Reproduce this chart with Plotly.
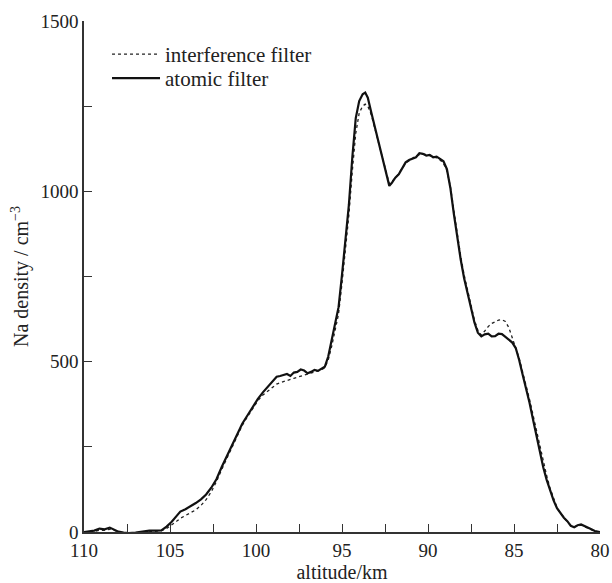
import plotly.graph_objects as go

altitude = [110.0, 109.7, 109.4, 109.1, 108.8, 108.5, 108.3, 108.0, 107.7, 107.4, 107.0, 106.6, 106.2, 105.8,
            105.5, 105.2, 104.9, 104.6, 104.4, 104.1, 103.8, 103.5, 103.2, 102.9, 102.6, 102.3, 102.0, 101.7,
            101.4, 101.1, 100.8, 100.5, 100.2, 99.9, 99.6, 99.3, 99.0, 98.8, 98.6, 98.4, 98.2, 98.0, 97.8, 97.6,
            97.4, 97.2, 97.0, 96.8, 96.6, 96.4, 96.2, 96.0, 95.8, 95.6, 95.4, 95.2, 95.0, 94.8, 94.6, 94.4, 94.2,
            94.0, 93.8, 93.65, 93.5, 93.3, 93.1, 92.9, 92.75, 92.6, 92.4, 92.25, 92.1, 91.9, 91.7, 91.5, 91.3,
            91.1, 90.9, 90.7, 90.5, 90.3, 90.1, 89.9, 89.7, 89.5, 89.3, 89.1, 88.9, 88.7, 88.5, 88.3, 88.1, 87.9,
            87.7, 87.5, 87.3, 87.1, 86.9, 86.7, 86.5, 86.3, 86.1, 85.9, 85.7, 85.5, 85.3, 85.1, 84.9, 84.7, 84.5,
            84.3, 84.1, 83.9, 83.7, 83.5, 83.3, 83.1, 82.9, 82.7, 82.5, 82.3, 82.1, 81.9, 81.7, 81.5, 81.3, 81.1,
            80.9, 80.7, 80.5, 80.3, 80.0]

atomic = [0, 2, 4, 10, 8, 13, 9, 1, -2, -3, -2, 1, 4, 4,
          5, 16, 30, 48, 60, 67, 75, 85, 96, 110, 130, 155, 190, 223,
          255, 287, 318, 342, 368, 390, 410, 428, 446, 456, 458, 460, 464, 458, 468, 470,
          477, 474, 466, 470, 476, 473, 478, 485, 515, 560, 610, 660, 755, 860, 960, 1100, 1215,
          1265, 1285, 1290, 1275, 1232, 1190, 1150, 1115, 1085, 1040, 1016, 1025, 1040, 1050, 1068, 1085,
          1092, 1097, 1100, 1112, 1110, 1105, 1107, 1100, 1102, 1095, 1088, 1065, 1010, 935, 860, 800, 745,
          700, 655, 615, 585, 574, 580, 582, 574, 575, 582, 581, 573, 565, 556, 540, 505, 462,
          425, 380, 332, 283, 233, 190, 153, 120, 93, 70, 54, 42, 32, 18, 14, 20, 22,
          18, 14, 8, 3, 0]

interference = [0, 0, 2, 5, 5, 8, 6, 0, -4, -5, -3, 0, 2, 3,
                4, 10, 20, 32, 40, 48, 55, 65, 78, 95, 118, 148, 183, 215,
                250, 282, 313, 338, 362, 385, 402, 415, 428, 434, 438, 442, 445, 448, 451, 454,
                457, 460, 463, 466, 469, 472, 476, 482, 505, 545, 590, 640, 730, 830, 930, 1060, 1170,
                1230, 1250, 1256, 1250, 1225, 1185, 1145, 1115, 1088, 1045, 1022, 1028, 1040, 1052, 1068, 1082,
                1090, 1098, 1104, 1108, 1110, 1108, 1105, 1102, 1098, 1092, 1082, 1060, 1015, 945, 875, 810, 755,
                708, 662, 622, 592, 578, 590, 603, 612, 618, 622, 623, 618, 600, 570, 540, 510, 470,
                432, 390, 345, 298, 250, 205, 165, 128, 98, 72, 55, 42, 30, 20, 15, 18, 20,
                16, 12, 7, 2, 0]

series_names = ["interference filter", "atomic filter"]
x_tick_values = [110, 105, 100, 95, 90, 85, 80]
x_tick_labels = ["110", "105", "100", "95", "90", "85", "80"]
y_tick_values = [0, 500, 1000, 1500]
y_tick_labels = ["0", "500", "1000", "1500"]

FONT = "Liberation Serif"
AXIS_COLOR = "#333333"
TEXT_COLOR = "#222222"

fig = go.Figure()
fig.add_trace(go.Scatter(x=altitude, y=interference, mode="lines", name=series_names[0], legend="legend",
                         line=dict(color="#222222", width=1.3, dash="dot")))
fig.add_trace(go.Scatter(x=altitude, y=atomic, mode="lines", name=series_names[1], legend="legend2",
                         line=dict(color="#111111", width=2.2)))

axis_common = dict(showline=True, linecolor=AXIS_COLOR, linewidth=1.5, ticks="inside", ticklen=8,
                   tickcolor=AXIS_COLOR, tickwidth=1.3, showgrid=False, zeroline=False, automargin=False,
                   tickfont=dict(family=FONT, size=19, color=TEXT_COLOR))

fig.update_xaxes(range=[110, 80], tickmode="array", tickvals=x_tick_values, ticktext=x_tick_labels,
                 minor=dict(dtick=2.5, tick0=80, ticks="inside", ticklen=8, tickcolor=AXIS_COLOR, tickwidth=1.3),
                 title=dict(text="altitude/km", font=dict(family=FONT, size=20, color=TEXT_COLOR), standoff=6),
                 **axis_common)
fig.update_yaxes(range=[0, 1500], tickmode="array", tickvals=y_tick_values, ticktext=y_tick_labels,
                 minor=dict(dtick=250, tick0=0, ticks="inside", ticklen=8, tickcolor=AXIS_COLOR, tickwidth=1.3),
                 title=dict(text="Na density / cm<sup>−3</sup>", font=dict(family=FONT, size=20, color=TEXT_COLOR),
                            standoff=6),
                 **axis_common)

legend_common = dict(xanchor="left", yanchor="top", bgcolor="rgba(0,0,0,0)",
                     font=dict(family=FONT, size=21, color=TEXT_COLOR), itemwidth=48, tracegroupgap=0)

fig.update_layout(
    width=612, height=583,
    margin=dict(l=84, r=12, t=21, b=51, pad=0),
    paper_bgcolor="white", plot_bgcolor="white",
    showlegend=True,
    legend=dict(x=0.0446, y=0.9746, **legend_common),
    legend2=dict(x=0.0446, y=0.9276, **legend_common),
)

# remove the default page margin so the figure fills the window exactly
fig.write_html("out.html", config={"displayModeBar": False},
               post_script="document.body.style.margin='0';")
